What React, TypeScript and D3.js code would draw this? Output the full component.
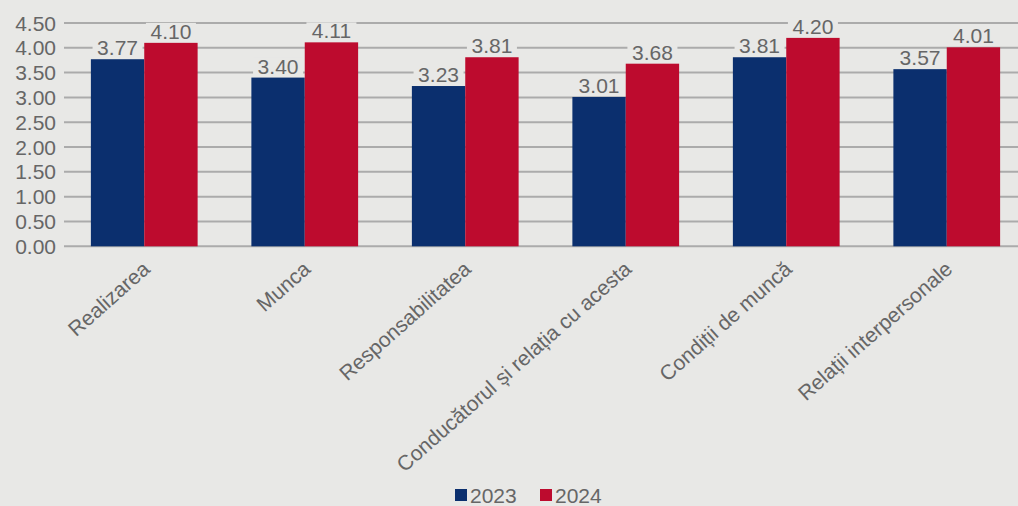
import React from "react";
import * as d3 from "d3";

const categories = [
  "Realizarea",
  "Munca",
  "Responsabilitatea",
  "Conducătorul și relația cu acesta",
  "Condiții de muncă",
  "Relații interpersonale",
];
const series = ["2023", "2024"];
const values2023 = [3.77, 3.4, 3.23, 3.01, 3.81, 3.57];
const values2024 = [4.1, 4.11, 3.81, 3.68, 4.2, 4.01];
const yTicks = [0, 0.5, 1, 1.5, 2, 2.5, 3, 3.5, 4, 4.5];

const W = 1018;
const H = 506;
const BG = "#e8e8e6";
const COLORS: Record<string, string> = { "2023": "#0b2f6e", "2024": "#bd0b2e" };
const FONT = "'Liberation Sans', Arial, sans-serif";
const TEXT = "#666666";
const FS = 21;

export default function App() {
  const y = d3.scaleLinear().domain([0, 4.5]).range([246.3, 23]);
  const x0 = d3
    .scaleBand<string>()
    .domain(categories)
    .range([64, 64 + 6 * 160.5])
    .paddingInner(0.335)
    .paddingOuter(0.1675);
  const x1 = d3.scaleBand<string>().domain(series).range([0, x0.bandwidth()]);
  const data = categories.map((c, i) => ({ c, v: { "2023": values2023[i], "2024": values2024[i] } as Record<string, number> }));

  return (
    <div style={{ position: "absolute", left: 0, top: 0 }}>
      <svg width={W} height={H} style={{ display: "block" }}>
        <rect x={0} y={0} width={W} height={H} fill={BG} />
        {yTicks.map((t) => (
          <g key={t}>
            <line x1={64} x2={W} y1={y(t)} y2={y(t)} stroke="#ababab" strokeWidth={2} />
            <text x={56} y={y(t)} dy="0.36em" textAnchor="end" fontFamily={FONT} fontSize={FS} fill={TEXT}>
              {t.toFixed(2)}
            </text>
          </g>
        ))}
        {data.map((d) => (
          <g key={d.c} transform={`translate(${x0(d.c)},0)`}>
            {series.map((s) => (
              <rect key={s} x={x1(s)} y={y(d.v[s])} width={x1.bandwidth()} height={y(0) - y(d.v[s])} fill={COLORS[s]} />
            ))}
          </g>
        ))}
        {data.map((d) => (
          <g key={d.c + "l"} transform={`translate(${x0(d.c)},0)`}>
            {series.map((s) => {
              const cx = (x1(s) as number) + x1.bandwidth() / 2;
              const ty = y(d.v[s]) - 4;
              return (
                <g key={s}>
                  <rect x={cx - 25} y={ty - 16} width={50} height={17} fill={BG} />
                  <text x={cx} y={ty} textAnchor="middle" fontFamily={FONT} fontSize={FS} fill={TEXT}>
                    {d.v[s].toFixed(2)}
                  </text>
                </g>
              );
            })}
          </g>
        ))}
        {categories.map((c) => {
          const cx = (x0(c) as number) + x0.bandwidth() / 2 + 7;
          const cy = 271;
          return (
            <text
              key={c}
              x={cx}
              y={cy}
              transform={`rotate(-41.5,${cx},${cy})`}
              textAnchor="end"
              fontFamily={FONT}
              fontSize={FS}
              fill={TEXT}
            >
              {c}
            </text>
          );
        })}
        <g>
          {series.map((s, i) => {
            const lx = 455 + i * 85;
            return (
              <g key={s}>
                <rect x={lx} y={489} width={12} height={12} fill={COLORS[s]} />
                <text x={lx + 15} y={503} fontFamily={FONT} fontSize={FS} fill={TEXT}>
                  {s}
                </text>
              </g>
            );
          })}
        </g>
      </svg>
    </div>
  );
}
